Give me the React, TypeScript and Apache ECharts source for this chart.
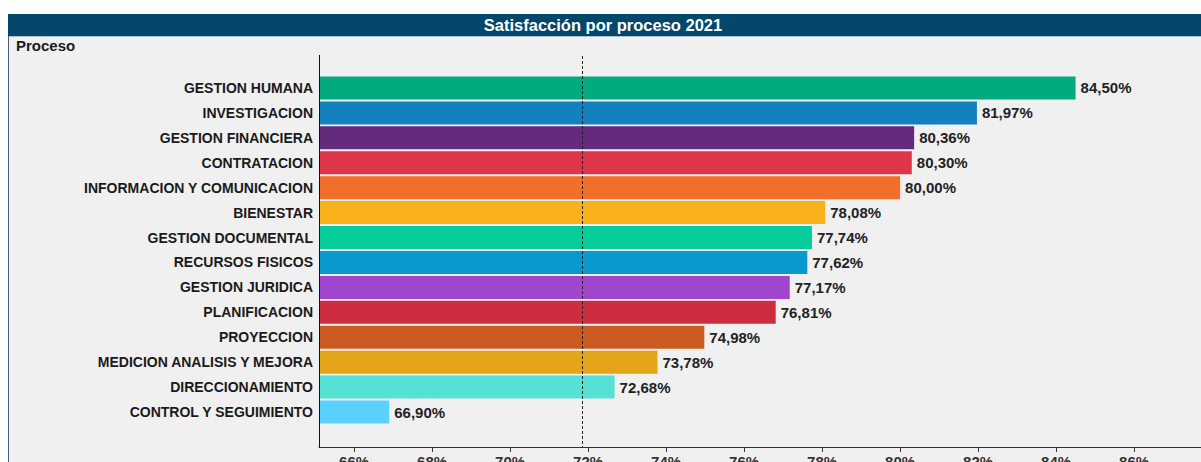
import React, { useEffect, useRef } from "react";
import * as echarts from "echarts";

const TITLE = "Satisfacción por proceso 2021";
const AXIS_TITLE = "Proceso";
const categories = [
  "GESTION HUMANA",
  "INVESTIGACION",
  "GESTION FINANCIERA",
  "CONTRATACION",
  "INFORMACION Y COMUNICACION",
  "BIENESTAR",
  "GESTION DOCUMENTAL",
  "RECURSOS FISICOS",
  "GESTION JURIDICA",
  "PLANIFICACION",
  "PROYECCION",
  "MEDICION ANALISIS Y MEJORA",
  "DIRECCIONAMIENTO",
  "CONTROL Y SEGUIMIENTO",
];
const values = [84.5, 81.97, 80.36, 80.3, 80.0, 78.08, 77.74, 77.62, 77.17, 76.81, 74.98, 73.78, 72.68, 66.9];
const colors = [
  "#03a97f", "#1281bd", "#652a7d", "#df3548", "#f26f29", "#f9b21c", "#04cd9a",
  "#0a99cf", "#a046cc", "#ce2d40", "#cb5b21", "#e4a518", "#55e2d4", "#5bd2fe",
];
const tickValues = [66, 68, 70, 72, 74, 76, 78, 80, 82, 84, 86];
const referenceValue = 71.84;
const X_MIN = 65.1;
const X_MAX = 87.8;

const FONT = 'Arial, "Liberation Sans", sans-serif';

export default function App() {
  const ref = useRef<HTMLDivElement>(null);
  useEffect(() => {
    if (!ref.current) return;
    const chart = echarts.init(ref.current, null, { renderer: "svg" });
    const gridLeft = 319;
    const gridTop = 75.5;
    const gridHeight = 349;
    const gridWidth = (X_MAX - X_MIN) * 39;
    chart.setOption({
      animation: false,
      backgroundColor: "#ffffff",
      textStyle: { fontFamily: FONT },
      grid: {
        left: gridLeft,
        top: gridTop,
        width: gridWidth,
        height: gridHeight,
        containLabel: false,
        outerBoundsMode: "none",
      },
      xAxis: {
        type: "value",
        min: X_MIN,
        max: X_MAX,
        offset: 22.5,
        axisLine: { show: true, lineStyle: { color: "#333333", width: 1 } },
        axisTick: { show: true, customValues: tickValues, length: 5, lineStyle: { color: "#333333" } },
        axisLabel: {
          customValues: tickValues,
          formatter: (v: number) => `${Math.round(v)}%`,
          color: "#333333",
          fontWeight: "bold",
          fontSize: 15,
          fontFamily: FONT,
          margin: 7,
        },
        splitLine: { show: false },
      },
      yAxis: {
        type: "category",
        data: categories,
        inverse: true,
        axisLine: { show: false },
        axisTick: { show: false },
        axisLabel: {
          color: "#1a1a1a",
          fontWeight: "bold",
          fontSize: 14,
          fontFamily: FONT,
          margin: 6,
        },
      },
      series: [
        {
          type: "bar",
          data: values.map((v, i) => ({ value: v, itemStyle: { color: colors[i] } })),
          barWidth: 23,
          label: {
            show: true,
            position: "right",
            distance: 5,
            color: "#222222",
            fontWeight: "bold",
            fontSize: 15,
            fontFamily: FONT,
            formatter: (p: any) => `${p.value.toFixed(2).replace(".", ",")}%`,
          },
        },
      ],
    });

    const refX = chart.convertToPixel({ xAxisIndex: 0 }, referenceValue) as number;
    chart.setOption({
      graphic: [
        { type: "rect", z: -10, shape: { x: 8.5, y: 14.5, width: 1200, height: 460 }, style: { fill: "#f0f0f0", stroke: "#3d6077", lineWidth: 1 } },
        { type: "rect", z: -5, shape: { x: 8, y: 14, width: 1193, height: 22 }, style: { fill: "#03486b" } },
        { type: "line", z: -5, shape: { x1: 9, y1: 36.5, x2: 1201, y2: 36.5 }, style: { stroke: "#a9c2d0", lineWidth: 1 } },
        {
          type: "text",
          x: 603,
          y: 25,
          style: { text: TITLE, fill: "#ffffff", font: `bold 16.5px ${FONT}`, align: "center", verticalAlign: "middle" },
        },
        {
          type: "text",
          x: 16,
          y: 45,
          style: { text: AXIS_TITLE, fill: "#1a1a1a", font: `bold 15px ${FONT}`, align: "left", verticalAlign: "middle" },
        },
        { type: "line", z: 10, shape: { x1: 319.5, y1: 55, x2: 319.5, y2: 447 }, style: { stroke: "#111111", lineWidth: 1 } },
        {
          type: "line",
          z: 10,
          shape: { x1: Math.round(refX) + 0.5, y1: 56, x2: Math.round(refX) + 0.5, y2: 447 },
          style: { stroke: "#222222", lineWidth: 1, lineDash: [3, 2] },
        },
      ],
    });
    return () => chart.dispose();
  }, []);
  return <div ref={ref} style={{ position: "absolute", left: 0, top: 0, width: 1201, height: 462 }} />;
}
